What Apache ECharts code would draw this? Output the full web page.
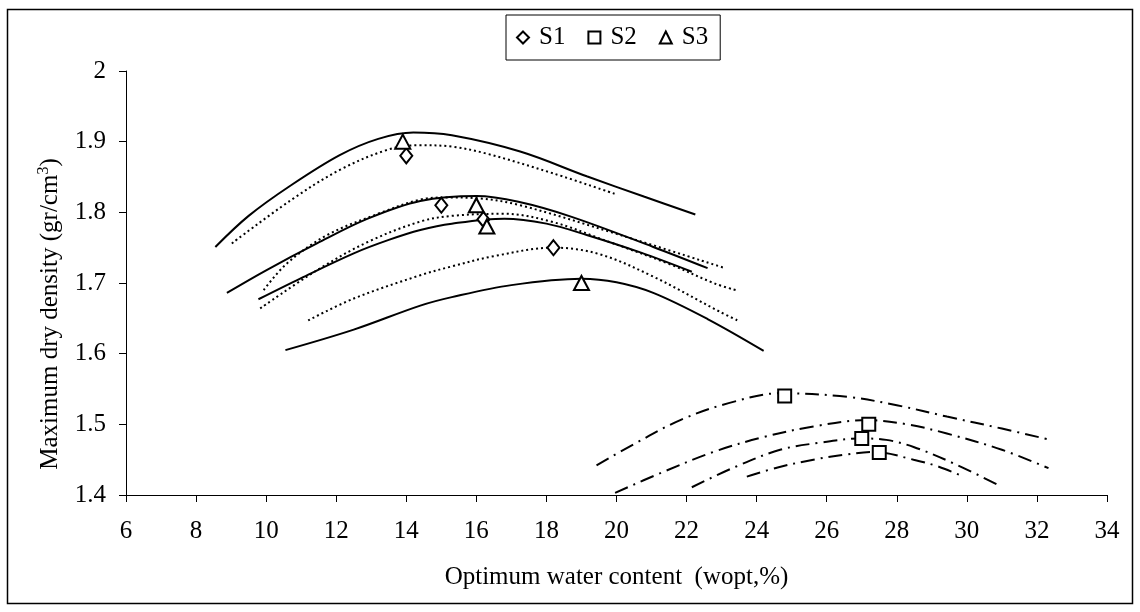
<!DOCTYPE html>
<html>
<head>
<meta charset="utf-8">
<script src="https://cdn.jsdelivr.net/npm/echarts@6/dist/echarts.min.js"></script>
<style>
html,body{margin:0;padding:0;background:#fff;}
#chart{width:1140px;height:612px;}
</style>
</head>
<body>
<div id="chart"></div>
<script>
// ---- Data ----
var xTicks = [6, 8, 10, 12, 14, 16, 18, 20, 22, 24, 26, 28, 30, 32, 34];
var yTicks = [1.4, 1.5, 1.6, 1.7, 1.8, 1.9, 2];

// Measured points
var s1Points = [[14.0, 1.88], [15.0, 1.81], [16.2, 1.79], [18.2, 1.75]];
var s2Points = [[24.8, 1.54], [27.2, 1.50], [27.0, 1.48], [27.5, 1.46]];
var s3Points = [[13.9, 1.90], [16.0, 1.81], [16.3, 1.78], [19.0, 1.70]];

// Solid compaction curves
var solidA = [[8.55,1.751],[9.5,1.795],[10.7,1.838],[12.1,1.881],[13.2,1.904],[14.2,1.913],[15.3,1.909],[17.25,1.886],[19.15,1.851],[20.8,1.822],[22.25,1.797]];
var solidB = [[8.88,1.686],[10.0,1.718],[11.45,1.756],[12.9,1.791],[14.4,1.816],[16.0,1.823],[17.2,1.815],[18.7,1.794],[21.05,1.751],[22.6,1.721]];
var solidC = [[9.78,1.677],[11.0,1.707],[12.5,1.742],[13.5,1.761],[14.4,1.775],[15.3,1.784],[16.8,1.791],[18.0,1.784],[19.15,1.768],[20.7,1.743],[22.15,1.716]];
var solidD = [[10.55,1.605],[12.5,1.634],[14.4,1.668],[15.3,1.680],[17.0,1.697],[19.0,1.706],[20.0,1.701],[21.05,1.686],[22.6,1.649],[24.2,1.604]];

// Dotted compaction curves
var dotA = [[9.02,1.756],[10.7,1.817],[12.1,1.860],[13.5,1.889],[14.4,1.895],[15.3,1.893],[16.3,1.883],[18.2,1.855],[19.96,1.826]];
var dotB = [[9.93,1.690],[10.6,1.728],[11.75,1.768],[13.25,1.799],[14.4,1.818],[15.2,1.821],[16.0,1.820],[17.25,1.810],[20.1,1.768],[23.1,1.721]];
var dotC = [[9.83,1.664],[11.45,1.718],[12.9,1.758],[14.4,1.787],[15.3,1.795],[16.78,1.798],[18.2,1.786],[19.63,1.761],[21.5,1.727],[22.82,1.699],[23.4,1.690]];
var dotD = [[11.2,1.647],[12.5,1.678],[14.4,1.711],[15.26,1.723],[16.5,1.738],[18.2,1.750],[19.5,1.741],[21.05,1.709],[22.96,1.659],[23.5,1.646]];

// Dash-dot compaction curves
var dashA = [[19.43,1.442],[20.5,1.472],[21.82,1.506],[23.2,1.530],[24.67,1.544],[26.58,1.539],[28.0,1.527],[29.43,1.511],[31.0,1.494],[32.38,1.478]];
var dashB = [[19.96,1.403],[21.3,1.432],[22.77,1.461],[24.2,1.482],[25.62,1.497],[27.15,1.506],[28.3,1.500],[29.43,1.487],[31.0,1.464],[32.33,1.438]];
var dashC = [[22.15,1.411],[23.4,1.440],[24.67,1.464],[25.8,1.474],[26.96,1.480],[27.7,1.478],[28.48,1.468],[29.7,1.443],[30.9,1.414]];
var dashD = [[23.72,1.426],[24.6,1.439],[25.62,1.450],[26.5,1.457],[27.34,1.461],[28.48,1.450],[29.2,1.440],[29.9,1.426]];

var FONT = "'Liberation Serif', 'Times New Roman', serif";

function curve(data, type, width) {
  return {
    type: 'line', data: data, smooth: 0.35, symbol: 'none', silent: true,
    lineStyle: { color: '#000', width: width, type: type },
    z: 2
  };
}
function points(name, data, symbol, size) {
  return {
    name: name, type: 'scatter', data: data, symbol: symbol, symbolSize: size,
    itemStyle: { color: '#fff', borderColor: '#000', borderWidth: 2, opacity: 1 },
    z: 5
  };
}

var chart = echarts.init(document.getElementById('chart'), null, { renderer: 'canvas' });
var option = {
  animation: false,
  backgroundColor: '#fff',
  textStyle: { fontFamily: FONT, color: '#000' },
  graphic: [{
    type: 'rect', shape: { x: 7.5, y: 9.5, width: 1125, height: 594 },
    style: { fill: 'none', stroke: '#000', lineWidth: 1.5 }, z: -1
  }],
  grid: { left: 126, right: 33, top: 71, bottom: 117 },
  legend: {
    data: ['S1', 'S2', 'S3'],
    left: 506, top: 15,
    padding: [10, 12, 10, 10],
    borderColor: '#000', borderWidth: 1, backgroundColor: '#fff',
    itemWidth: 12, itemHeight: 12, itemGap: 22,
    itemStyle: { borderWidth: 2 },
    textStyle: { fontFamily: FONT, fontSize: 25, color: '#000', padding: [0, 0, 0, 5] }
  },
  xAxis: {
    type: 'value', min: 6, max: 34, interval: 2,
    name: 'Optimum water content  (wopt,%)',
    nameLocation: 'middle', nameGap: 70,
    nameTextStyle: { fontFamily: FONT, fontSize: 25, color: '#000' },
    axisLine: { onZero: false, lineStyle: { color: '#000', width: 1 } },
    axisTick: { show: true, inside: false, length: 7, lineStyle: { color: '#000' } },
    axisLabel: { fontFamily: FONT, fontSize: 25, color: '#000', margin: 24 },
    splitLine: { show: false }
  },
  yAxis: {
    type: 'value', min: 1.4, max: 2, interval: 0.1,
    name: 'Maximum dry density (gr/cm{sup|3})',
    nameLocation: 'middle', nameGap: 62, nameRotate: 90,
    nameTextStyle: {
      fontFamily: FONT, fontSize: 25, color: '#000', padding: [0, 62, 0, 0],
      rich: { sup: { fontFamily: FONT, fontSize: 16, color: '#000', verticalAlign: 'top', padding: [0, 0, 12, 0] } }
    },
    axisLine: { show: true, lineStyle: { color: '#000', width: 1 } },
    axisTick: { show: true, inside: false, length: 7, lineStyle: { color: '#000' } },
    axisLabel: { fontFamily: FONT, fontSize: 25, color: '#000', margin: 20,
      formatter: function (v) { return String(Math.round(v * 10) / 10); } },
    splitLine: { show: false }
  },
  series: [
    curve(solidA, 'solid', 2), curve(solidB, 'solid', 2), curve(solidC, 'solid', 2), curve(solidD, 'solid', 2),
    curve(dotA, [2, 3], 2), curve(dotB, [2, 3], 2), curve(dotC, [2, 3], 2), curve(dotD, [2, 3], 2),
    curve(dashA, [14, 6, 2, 6], 2), curve(dashB, [14, 6, 2, 6], 2), curve(dashC, [14, 6, 2, 6], 2), curve(dashD, [14, 6, 2, 6], 2),
    points('S1', s1Points, 'diamond', [12, 15]),
    points('S2', s2Points, 'rect', 13),
    points('S3', s3Points, 'triangle', [15, 14])
  ]
};
chart.setOption(option);
</script>
</body>
</html>
